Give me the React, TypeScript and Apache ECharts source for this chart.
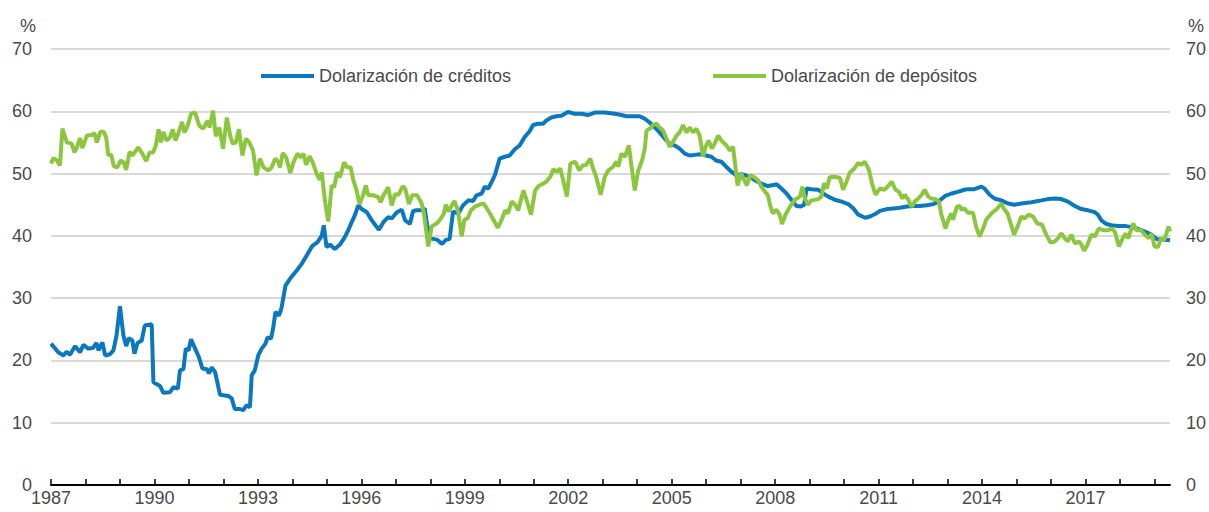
import React, { useEffect, useRef } from "react";
import * as echarts from "echarts";

const creditYears = [
  1987.0, 1987.21, 1987.36, 1987.45, 1987.55, 1987.7, 1987.84, 1987.94, 1988.08, 1988.22, 1988.32, 1988.38,
  1988.49, 1988.57, 1988.71, 1988.81, 1988.9, 1989.0, 1989.1, 1989.18, 1989.26, 1989.36, 1989.42, 1989.51,
  1989.63, 1989.72, 1989.92, 1989.97, 1990.16, 1990.26, 1990.45, 1990.55, 1990.68, 1990.74, 1990.84, 1990.91,
  1990.99, 1991.06, 1991.18, 1991.29, 1991.39, 1991.52, 1991.58, 1991.66, 1991.76, 1991.9, 1992.14, 1992.24,
  1992.33, 1992.48, 1992.57, 1992.67, 1992.77, 1992.82, 1992.91, 1993.01, 1993.11, 1993.22, 1993.28, 1993.38,
  1993.44, 1993.51, 1993.61, 1993.68, 1993.8, 1993.97, 1994.12, 1994.27, 1994.41, 1994.58, 1994.73, 1994.85,
  1994.91, 1994.99, 1995.09, 1995.23, 1995.38, 1995.52, 1995.62, 1995.72, 1995.81, 1995.91, 1996.01, 1996.16,
  1996.3, 1996.45, 1996.51, 1996.64, 1996.78, 1996.88, 1997.03, 1997.17, 1997.27, 1997.41, 1997.5, 1997.6,
  1997.74, 1997.84, 1997.9, 1997.99, 1998.19, 1998.34, 1998.46, 1998.56, 1998.66, 1998.81, 1998.95, 1999.1,
  1999.24, 1999.34, 1999.49, 1999.58, 1999.68, 1999.79, 1999.87, 2000.01, 2000.16, 2000.3, 2000.45, 2000.59,
  2000.74, 2000.88, 2000.98, 2001.12, 2001.27, 2001.36, 2001.51, 2001.65, 2001.8, 2001.99, 2002.18, 2002.38,
  2002.57, 2002.77, 2003.06, 2003.35, 2003.54, 2003.69, 2003.88, 2004.07, 2004.22, 2004.36, 2004.51, 2004.65,
  2004.8, 2004.94, 2005.09, 2005.23, 2005.38, 2005.52, 2005.67, 2005.81, 2006.0, 2006.15, 2006.29, 2006.44,
  2006.58, 2006.73, 2006.87, 2007.02, 2007.16, 2007.31, 2007.45, 2007.6, 2007.79, 2007.99, 2008.04, 2008.18,
  2008.33, 2008.47, 2008.62, 2008.74, 2008.84, 2008.91, 2009.05, 2009.25, 2009.39, 2009.54, 2009.73, 2009.93,
  2010.12, 2010.27, 2010.41, 2010.61, 2010.75, 2010.9, 2011.04, 2011.24, 2011.43, 2011.62, 2011.82, 2012.01,
  2012.2, 2012.4, 2012.59, 2012.73, 2012.93, 2013.12, 2013.32, 2013.49, 2013.59, 2013.78, 2013.98, 2014.07,
  2014.22, 2014.36, 2014.56, 2014.75, 2014.94, 2015.14, 2015.43, 2015.72, 2015.91, 2016.11, 2016.3, 2016.49,
  2016.69, 2016.88, 2017.07, 2017.27, 2017.36, 2017.46, 2017.61, 2017.75, 2017.94, 2018.14, 2018.33, 2018.53,
  2018.72, 2018.91, 2019.06, 2019.25, 2019.45,
];
const creditValues = [
  22.7, 21.3, 20.8, 21.4, 20.9, 22.3, 21.3, 22.5, 21.9, 22.0, 22.8, 21.6,
  22.9, 20.8, 21.0, 21.6, 24.0, 28.7, 24.0, 22.3, 23.6, 23.2, 21.1, 22.8,
  23.2, 25.6, 25.8, 16.5, 15.9, 14.8, 14.9, 15.7, 15.5, 18.4, 18.6, 21.9,
  21.6, 23.4, 21.9, 20.5, 18.7, 18.6, 17.9, 18.9, 18.1, 14.5, 14.3, 13.9,
  12.2, 12.2, 12.0, 12.8, 12.5, 17.6, 18.4, 20.8, 21.9, 22.7, 23.7, 23.5,
  25.1, 27.8, 27.2, 28.3, 32.0, 33.4, 34.4, 35.5, 36.8, 38.4, 39.0, 40.0,
  41.7, 38.2, 38.6, 37.9, 38.6, 39.8, 40.9, 42.2, 43.3, 44.9, 44.3, 43.8,
  42.5, 41.4, 41.0, 42.2, 43.0, 42.8, 43.8, 44.2, 42.5, 41.9, 44.0, 44.1,
  44.1, 44.4, 42.0, 39.6, 39.4, 38.7, 39.4, 39.5, 43.9, 43.6, 44.9, 45.7,
  45.6, 46.5, 46.8, 47.9, 47.6, 48.8, 49.7, 52.4, 52.7, 52.9, 53.9, 54.5,
  55.9, 56.8, 57.8, 58.0, 58.0, 58.5, 59.0, 59.2, 59.3, 59.9, 59.6, 59.6,
  59.4, 59.8, 59.8, 59.6, 59.4, 59.2, 59.2, 59.2, 58.8, 58.2, 57.4, 56.6,
  55.6, 54.8, 54.5, 54.0, 53.2, 52.9, 53.0, 53.1, 52.9, 52.7, 52.1, 51.9,
  51.1, 50.3, 49.7, 49.9, 49.7, 49.3, 48.8, 48.4, 48.0, 48.2, 48.3, 47.6,
  46.8, 45.8, 44.8, 44.7, 45.0, 47.6, 47.5, 47.4, 46.8, 46.3, 45.8, 45.5,
  45.1, 44.4, 43.4, 42.9, 43.1, 43.5, 44.0, 44.3, 44.4, 44.5, 44.7, 44.8,
  44.8, 44.9, 45.1, 45.5, 46.4, 46.8, 47.1, 47.4, 47.5, 47.5, 47.9, 47.6,
  46.6, 46.0, 45.7, 45.2, 45.0, 45.2, 45.4, 45.7, 45.9, 46.0, 45.9, 45.5,
  44.8, 44.3, 44.1, 43.8, 43.4, 42.5, 41.9, 41.7, 41.6, 41.6, 41.4, 41.1,
  40.7, 40.2, 39.5, 39.4, 39.3,
];

const depositYears = [
  1987.0, 1987.07, 1987.17, 1987.26, 1987.33, 1987.46, 1987.6, 1987.68, 1987.75, 1987.84, 1987.91, 1988.04,
  1988.19, 1988.26, 1988.33, 1988.43, 1988.53, 1988.6, 1988.66, 1988.75, 1988.82, 1988.92, 1989.02, 1989.11,
  1989.18, 1989.28, 1989.36, 1989.53, 1989.65, 1989.76, 1989.86, 1989.96, 1990.04, 1990.12, 1990.19, 1990.26,
  1990.35, 1990.45, 1990.53, 1990.61, 1990.7, 1990.8, 1990.87, 1990.96, 1991.06, 1991.18, 1991.3, 1991.41,
  1991.54, 1991.6, 1991.7, 1991.78, 1991.88, 1991.99, 1992.1, 1992.2, 1992.27, 1992.36, 1992.45, 1992.55,
  1992.65, 1992.75, 1992.86, 1992.96, 1993.06, 1993.16, 1993.31, 1993.4, 1993.5, 1993.6, 1993.64, 1993.72,
  1993.82, 1993.94, 1994.03, 1994.15, 1994.24, 1994.32, 1994.4, 1994.5, 1994.59, 1994.69, 1994.79, 1994.85,
  1994.95, 1995.04, 1995.14, 1995.21, 1995.3, 1995.38, 1995.5, 1995.59, 1995.69, 1995.76, 1995.86, 1995.95,
  1996.05, 1996.13, 1996.2, 1996.35, 1996.49, 1996.56, 1996.64, 1996.78, 1996.88, 1996.98, 1997.08, 1997.2,
  1997.27, 1997.38, 1997.47, 1997.62, 1997.75, 1997.82, 1997.94, 1998.04, 1998.19, 1998.28, 1998.38, 1998.45,
  1998.53, 1998.63, 1998.7, 1998.8, 1998.91, 1998.99, 1999.08, 1999.18, 1999.3, 1999.42, 1999.54, 1999.64,
  1999.73, 1999.83, 1999.96, 2000.07, 2000.17, 2000.25, 2000.36, 2000.46, 2000.55, 2000.7, 2000.8, 2000.92,
  2001.04, 2001.14, 2001.28, 2001.38, 2001.48, 2001.57, 2001.67, 2001.77, 2001.84, 2001.96, 2002.06, 2002.2,
  2002.32, 2002.42, 2002.52, 2002.64, 2002.72, 2002.81, 2002.94, 2003.06, 2003.16, 2003.3, 2003.4, 2003.45,
  2003.54, 2003.64, 2003.76, 2003.83, 2003.93, 2004.03, 2004.14, 2004.22, 2004.27, 2004.36, 2004.46, 2004.56,
  2004.65, 2004.75, 2004.85, 2004.94, 2005.04, 2005.14, 2005.23, 2005.33, 2005.43, 2005.52, 2005.62, 2005.72,
  2005.81, 2005.91, 2005.98, 2006.07, 2006.17, 2006.27, 2006.35, 2006.44, 2006.59, 2006.69, 2006.78, 2006.91,
  2007.01, 2007.11, 2007.18, 2007.27, 2007.4, 2007.51, 2007.61, 2007.72, 2007.79, 2007.86, 2007.94, 2008.04,
  2008.13, 2008.2, 2008.3, 2008.43, 2008.57, 2008.72, 2008.79, 2008.86, 2008.96, 2009.05, 2009.25, 2009.34,
  2009.42, 2009.5, 2009.58, 2009.73, 2009.88, 2009.97, 2010.07, 2010.16, 2010.31, 2010.41, 2010.5, 2010.6,
  2010.72, 2010.81, 2010.91, 2011.04, 2011.16, 2011.26, 2011.38, 2011.49, 2011.59, 2011.69, 2011.76, 2011.86,
  2011.96, 2012.05, 2012.15, 2012.25, 2012.34, 2012.44, 2012.53, 2012.65, 2012.75, 2012.82, 2012.94, 2013.04,
  2013.11, 2013.16, 2013.27, 2013.35, 2013.41, 2013.49, 2013.59, 2013.74, 2013.83, 2013.93, 2014.03, 2014.12,
  2014.27, 2014.41, 2014.56, 2014.64, 2014.74, 2014.83, 2014.93, 2015.03, 2015.14, 2015.24, 2015.35, 2015.48,
  2015.6, 2015.74, 2015.86, 2015.99, 2016.11, 2016.2, 2016.3, 2016.4, 2016.49, 2016.59, 2016.69, 2016.81,
  2016.88, 2016.96, 2017.06, 2017.17, 2017.27, 2017.39, 2017.51, 2017.66, 2017.75, 2017.85, 2017.97, 2018.06,
  2018.16, 2018.24, 2018.38, 2018.48, 2018.61, 2018.72, 2018.84, 2018.92, 2019.0, 2019.1, 2019.19, 2019.29,
  2019.41, 2019.45,
];
const depositValues = [
  51.6, 52.5, 52.1, 51.3, 57.2, 55.0, 54.8, 53.4, 54.2, 55.7, 54.1, 56.1,
  56.2, 56.5, 55.0, 56.7, 56.7, 55.8, 53.0, 53.0, 51.2, 51.0, 52.1, 51.8,
  50.6, 53.5, 52.9, 54.2, 53.2, 52.0, 53.4, 53.4, 54.5, 57.1, 55.0, 56.7,
  55.3, 55.8, 57.1, 55.3, 56.6, 58.3, 56.6, 57.6, 59.6, 59.8, 57.7, 57.2,
  58.5, 57.4, 60.1, 56.0, 57.4, 54.0, 59.0, 56.0, 54.8, 55.0, 57.1, 52.9,
  55.6, 55.0, 53.7, 49.7, 52.4, 51.0, 50.5, 51.0, 52.4, 51.8, 51.0, 53.3,
  52.6, 50.1, 51.8, 53.2, 52.6, 53.2, 51.4, 52.8, 51.8, 50.2, 49.0, 50.2,
  45.4, 42.3, 48.1, 47.8, 50.2, 49.4, 51.8, 51.0, 51.0, 49.1, 47.3, 45.1,
  46.5, 48.1, 46.5, 46.5, 46.2, 45.4, 46.5, 47.8, 44.9, 46.7, 46.6, 48.0,
  47.6, 45.1, 46.5, 46.5, 45.2, 43.4, 38.3, 41.5, 42.0, 42.6, 43.4, 45.0,
  43.9, 45.0, 45.6, 44.1, 39.9, 42.6, 42.8, 44.1, 44.7, 45.0, 45.2, 44.4,
  43.6, 42.6, 41.3, 42.6, 44.1, 43.6, 45.5, 45.0, 44.1, 47.3, 45.6, 43.4,
  47.3, 48.0, 48.4, 48.8, 49.5, 50.7, 50.3, 50.8, 49.2, 46.3, 51.6, 51.9,
  50.5, 51.3, 51.4, 52.4, 50.8, 49.5, 46.6, 49.5, 50.5, 51.1, 51.9, 51.1,
  53.2, 52.7, 54.5, 51.3, 47.3, 50.5, 52.1, 54.0, 56.9, 57.2, 57.8, 58.0,
  57.4, 56.9, 55.6, 54.3, 55.1, 56.1, 56.6, 57.8, 56.6, 57.4, 56.6, 57.2,
  56.1, 52.7, 54.3, 55.3, 54.0, 55.1, 56.1, 55.3, 54.5, 53.7, 54.3, 48.1,
  50.0, 48.9, 48.1, 49.7, 49.4, 48.9, 47.8, 47.0, 46.5, 44.8, 43.6, 44.2,
  43.4, 41.9, 43.4, 44.7, 45.8, 46.3, 47.9, 46.0, 45.0, 45.7, 45.9, 46.3,
  48.4, 47.6, 49.4, 49.5, 49.3, 47.4, 48.7, 50.1, 50.9, 51.7, 51.4, 51.9,
  50.6, 48.4, 46.6, 47.6, 47.4, 47.9, 48.7, 47.4, 47.1, 46.0, 46.6, 45.8,
  44.7, 45.5, 46.0, 46.6, 47.4, 46.3, 46.0, 45.9, 45.5, 43.4, 41.2, 42.8,
  43.6, 42.6, 44.7, 44.8, 44.2, 44.4, 43.7, 43.7, 41.4, 39.9, 41.2, 42.6,
  43.6, 44.2, 45.2, 44.3, 43.6, 42.0, 40.2, 41.5, 43.1, 42.8, 43.4, 43.1,
  42.0, 41.8, 40.2, 38.9, 39.1, 39.6, 40.4, 39.6, 39.1, 40.2, 38.8, 39.1,
  38.6, 37.6, 38.6, 40.2, 39.9, 41.2, 40.9, 40.9, 41.2, 40.7, 38.3, 39.4,
  40.4, 39.6, 42.0, 40.9, 40.9, 40.2, 39.6, 40.4, 38.3, 38.2, 39.6, 39.4,
  41.5, 40.7,
];

const creditName = "Dolarización de créditos";
const depositName = "Dolarización de depósitos";
const xTickYears = Array.from({ length: 33 }, (_, i) => 1987 + i);
const xLabelYears = [1987, 1990, 1993, 1996, 1999, 2002, 2005, 2008, 2011, 2014, 2017];

const FONT = "'Liberation Sans', Arial, sans-serif";
const TEXT = "#4a4a4a";
const BLUE = "#0a78be";
const GREEN = "#8cc63f";

const zip = (xs: number[], ys: number[]) => xs.map((x, i) => [x, ys[i]]);

export default function App() {
  const ref = useRef<HTMLDivElement>(null);
  useEffect(() => {
    document.body.style.margin = "0";
    const chart = echarts.init(ref.current!, null, { renderer: "svg" });
    const yAxisBase = {
      type: "value",
      min: 0,
      max: 70,
      interval: 10,
      axisLine: { show: false },
      axisTick: { show: false },
      axisLabel: { fontSize: 18, color: TEXT, fontFamily: FONT },
    };
    const legendBase = {
      top: 67,
      padding: 0,
      itemWidth: 53,
      itemHeight: 4,
      icon: "rect",
      textStyle: { fontSize: 18, color: TEXT, fontFamily: FONT },
    };
    chart.setOption({
      animation: false,
      grid: { left: 51, right: 37, top: 49, bottom: 27, containLabel: false },
      legend: [
        { ...legendBase, left: 261, data: [creditName] },
        { ...legendBase, left: 713, data: [depositName] },
      ],
      graphic: [
        { type: "text", left: 20, top: 17, style: { text: "%", fontSize: 18, fill: TEXT, fontFamily: FONT } },
        { type: "text", left: 1188, top: 17, style: { text: "%", fontSize: 18, fill: TEXT, fontFamily: FONT } },
      ],
      xAxis: {
        type: "value",
        min: 1987,
        max: 2019.45,
        interval: 1,
        axisLine: { show: true, onZero: false, lineStyle: { color: "#000", width: 2 } },
        axisTick: { show: true, inside: true, length: 6, customValues: xTickYears, lineStyle: { color: "#000", width: 1.5 } },
        axisLabel: {
          customValues: xLabelYears,
          formatter: (v: number) => String(v),
          fontSize: 18,
          color: TEXT,
          fontFamily: FONT,
          margin: 4,
        },
        splitLine: { show: false },
      },
      yAxis: [
        {
          ...yAxisBase,
          position: "left",
          axisLabel: { ...yAxisBase.axisLabel, margin: 19 },
          splitLine: { show: true, lineStyle: { color: "#d9d9d9", width: 2 } },
        },
        {
          ...yAxisBase,
          position: "right",
          axisLabel: { ...yAxisBase.axisLabel, margin: 16 },
          splitLine: { show: false },
        },
      ],
      series: [
        {
          name: creditName,
          type: "line",
          data: zip(creditYears, creditValues),
          showSymbol: false,
          symbol: "none",
          lineStyle: { width: 4, color: BLUE },
          itemStyle: { color: BLUE },
          z: 2,
        },
        {
          name: depositName,
          type: "line",
          data: zip(depositYears, depositValues),
          showSymbol: false,
          symbol: "none",
          lineStyle: { width: 4, color: GREEN },
          itemStyle: { color: GREEN },
          z: 3,
        },
      ],
    });
    return () => chart.dispose();
  }, []);
  return <div ref={ref} style={{ width: 1209, height: 512 }} />;
}
